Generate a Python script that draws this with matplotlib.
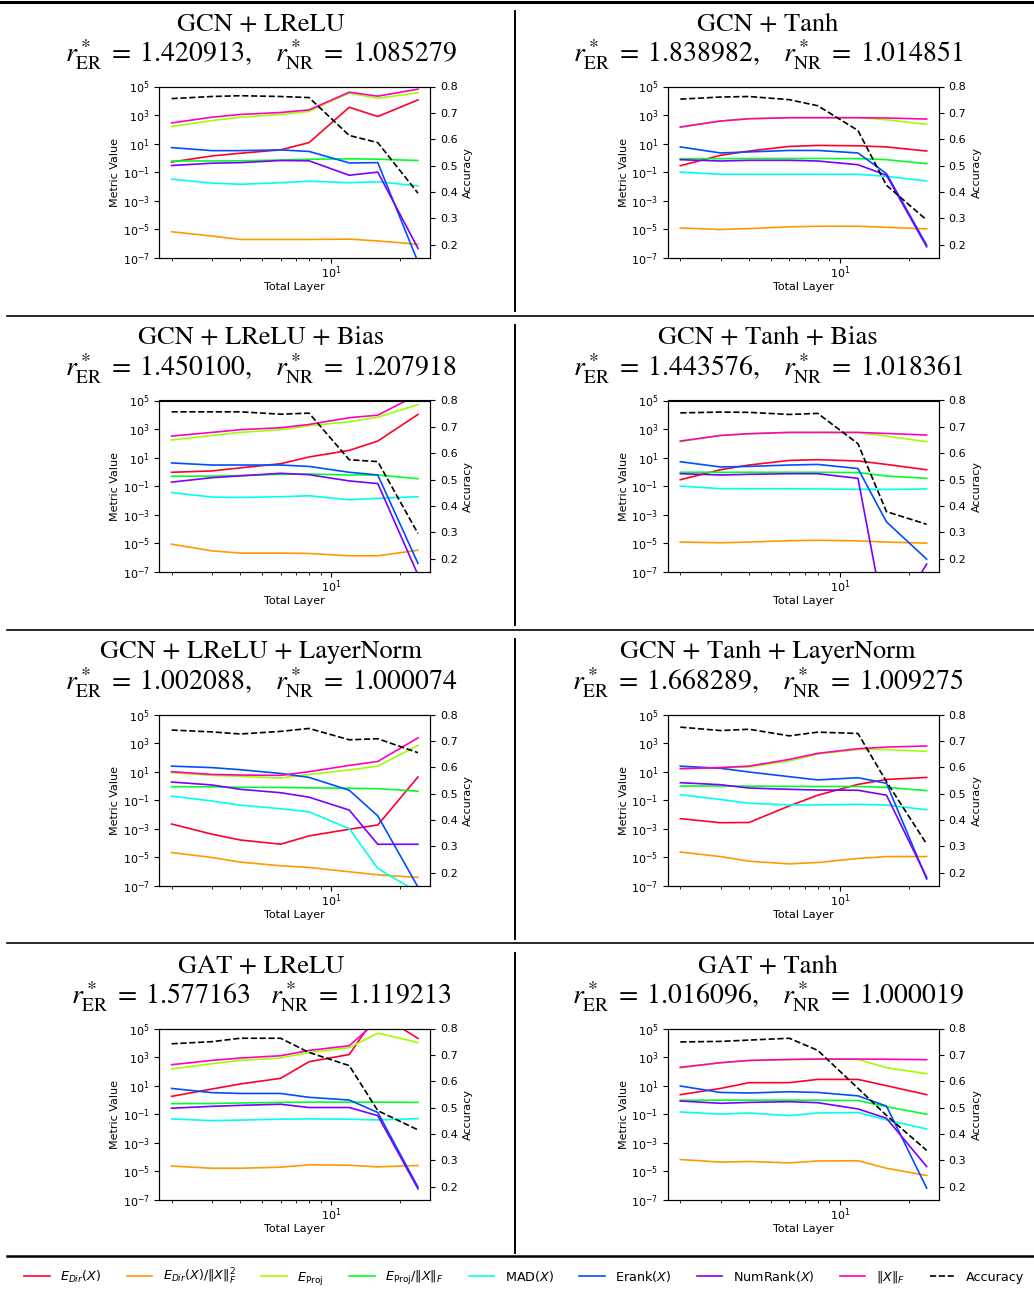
import numpy as np
import matplotlib
matplotlib.use('Agg')
import matplotlib.pyplot as plt
from matplotlib.lines import Line2D
from matplotlib.ticker import NullFormatter, NullLocator

# layers on the x axis
layers = [2, 3, 4, 6, 8, 12, 16, 24]

# panel order: row by row, left then right
titles = ['GCN + LReLU', 'GCN + Tanh',
          'GCN + LReLU + Bias', 'GCN + Tanh + Bias',
          'GCN + LReLU + LayerNorm', 'GCN + Tanh + LayerNorm',
          'GAT + LReLU', 'GAT + Tanh']
r_er = ['1.420913', '1.838982', '1.450100', '1.443576',
        '1.002088', '1.668289', '1.577163', '1.016096']
r_nr = ['1.085279', '1.014851', '1.207918', '1.018361',
        '1.000074', '1.009275', '1.119213', '1.000019']
r_sep = [',', ',', ',', ',', ',', ',', '', ',']

e_dir = [
    [0.51, 1.35, 2.1, 3.6, 11.7, 3500, 790, 11500],
    [0.28, 1.5, 3.0, 6.3, 7.4, 7.0, 5.8, 3.0],
    [0.93, 1.15, 1.9, 3.7, 11, 32, 144, 10500],
    [0.28, 1.4, 3.0, 6.3, 7.1, 5.8, 3.3, 1.4],
    [2.1e-3, 4.1e-4, 1.6e-4, 8.1e-5, 3.1e-4, 9.1e-4, 1.8e-3, 4.2],
    [5e-3, 2.6e-3, 2.7e-3, 0.039, 0.22, 1.26, 2.8, 3.9],
    [1.75, 5.7, 13, 32, 470, 1500, 1.2e6, 2e4],
    [2.3, 6.3, 16, 16, 27, 27, 9.8, 2.3],
]
e_dir_norm = [
    [6.6e-6, 3.3e-6, 1.9e-6, 1.9e-6, 1.9e-6, 2.0e-6, 1.5e-6, 8.7e-7],
    [1.2e-5, 9.5e-6, 1.1e-5, 1.45e-5, 1.6e-5, 1.6e-5, 1.35e-5, 1.05e-5],
    [8.5e-6, 2.9e-6, 2.0e-6, 2.0e-6, 1.9e-6, 1.3e-6, 1.3e-6, 3.2e-6],
    [1.2e-5, 1.06e-5, 1.2e-5, 1.5e-5, 1.6e-5, 1.45e-5, 1.2e-5, 1.0e-5],
    [2.1e-5, 9.5e-6, 4.5e-6, 2.5e-6, 1.9e-6, 9.4e-7, 5.8e-7, 3.8e-7],
    [2.3e-5, 1.1e-5, 5.2e-6, 3.4e-6, 4.2e-6, 8.1e-6, 1.1e-5, 1.1e-5],
    [2.3e-5, 1.6e-5, 1.6e-5, 1.9e-5, 2.8e-5, 2.6e-5, 2.0e-5, 2.5e-5],
    [6.6e-5, 4.3e-5, 4.8e-5, 3.8e-5, 5.2e-5, 5.4e-5, 1.6e-5, 5.0e-6],
]
e_proj = [
    [155, 410, 700, 1100, 1800, 34000, 15000, 36000],
    [144, 380, 550, 650, 650, 650, 470, 220],
    [170, 355, 580, 900, 1700, 3240, 6800, 52000],
    [130, 355, 470, 580, 580, 560, 320, 130],
    [8.3, 5.4, 4.6, 3.5, 6.3, 13, 24, 680],
    [16, 19, 21, 55, 170, 355, 355, 260],
    [144, 340, 580, 850, 2100, 4500, 47000, 10500],
    [175, 400, 560, 650, 700, 680, 178, 68],
]
e_proj_norm = [
    [0.6, 0.6, 0.62, 0.7, 0.8, 0.85, 0.8, 0.65],
    [0.87, 0.87, 0.9, 0.9, 0.9, 0.88, 0.74, 0.39],
    [0.49, 0.5, 0.55, 0.67, 0.7, 0.6, 0.6, 0.33],
    [0.93, 0.93, 0.93, 0.93, 0.93, 0.89, 0.51, 0.35],
    [0.87, 0.85, 0.79, 0.77, 0.72, 0.68, 0.63, 0.42],
    [0.97, 0.97, 0.95, 0.92, 0.9, 0.9, 0.78, 0.46],
    [0.54, 0.55, 0.6, 0.66, 0.69, 0.69, 0.69, 0.66],
    [0.93, 0.95, 0.95, 0.95, 0.93, 0.9, 0.33, 0.098],
]
mad = [
    [0.032, 0.017, 0.014, 0.018, 0.023, 0.018, 0.021, 0.011],
    [0.1, 0.07, 0.07, 0.07, 0.07, 0.07, 0.05, 0.024],
    [0.035, 0.017, 0.016, 0.018, 0.021, 0.011, 0.014, 0.018],
    [0.1, 0.066, 0.065, 0.065, 0.063, 0.06, 0.058, 0.063],
    [0.19, 0.087, 0.044, 0.025, 0.015, 1e-3, 1.6e-6, 3.5e-8],
    [0.24, 0.11, 0.06, 0.046, 0.046, 0.051, 0.045, 0.021],
    [0.046, 0.035, 0.038, 0.044, 0.046, 0.044, 0.039, 0.048],
    [0.14, 0.1, 0.12, 0.078, 0.12, 0.13, 0.039, 9.1e-3],
]
erank = [
    [5.2, 3.2, 3.2, 3.6, 2.8, 0.44, 0.46, 5e-8],
    [5.8, 2.2, 2.6, 3.3, 3.3, 2.2, 0.078, 7.6e-7],
    [4.2, 3.0, 3.0, 3.0, 2.4, 0.93, 0.6, 3.8e-7],
    [5.1, 2.2, 2.4, 3.0, 3.3, 1.7, 3.1e-4, 7.6e-7],
    [24, 19, 13.5, 7.4, 3.9, 0.49, 7.8e-3, 8e-8],
    [24, 17, 9.3, 4.4, 2.6, 3.7, 1.5, 2.9e-7],
    [6.3, 3.2, 2.8, 2.8, 1.5, 0.97, 0.13, 7.6e-7],
    [9.3, 3.3, 3.0, 3.7, 3.3, 1.9, 0.36, 6.5e-7],
]
numrank = [
    [0.29, 0.42, 0.46, 0.65, 0.62, 0.06, 0.1, 4.5e-7],
    [0.74, 0.6, 0.67, 0.67, 0.6, 0.33, 0.06, 5.8e-7],
    [0.19, 0.39, 0.52, 0.79, 0.63, 0.23, 0.15, 6e-8],
    [0.74, 0.6, 0.67, 0.74, 0.74, 0.35, 1e-11, 3.4e-7],
    [1.85, 1.15, 0.57, 0.33, 0.16, 0.02, 8e-5, 8e-5],
    [1.66, 1.2, 0.7, 0.57, 0.51, 0.49, 0.22, 3.8e-7],
    [0.26, 0.35, 0.41, 0.49, 0.29, 0.29, 0.078, 5.8e-7],
    [0.83, 0.57, 0.66, 0.74, 0.63, 0.23, 0.051, 2.1e-5],
]
fro = [
    [280, 700, 1100, 1500, 2300, 40000, 21000, 65000],
    [144, 380, 550, 650, 650, 650, 620, 520],
    [320, 580, 900, 1230, 2100, 6200, 9400, 2.6e5],
    [144, 355, 470, 580, 580, 580, 490, 380],
    [9.8, 6.3, 5.7, 5.4, 9.8, 27, 51, 2300],
    [16, 19, 24, 71, 190, 400, 520, 620],
    [290, 580, 850, 1230, 2900, 6200, 3.6e5, 2e5],
    [190, 400, 580, 680, 720, 720, 700, 650],
]
accuracy = [
    [0.754, 0.762, 0.765, 0.762, 0.758, 0.614, 0.587, 0.395],
    [0.752, 0.760, 0.762, 0.750, 0.727, 0.633, 0.425, 0.293],
    [0.757, 0.757, 0.757, 0.748, 0.752, 0.575, 0.568, 0.295],
    [0.753, 0.756, 0.755, 0.747, 0.751, 0.636, 0.378, 0.330],
    [0.741, 0.734, 0.726, 0.736, 0.747, 0.704, 0.708, 0.655],
    [0.752, 0.739, 0.744, 0.719, 0.733, 0.728, 0.545, 0.308],
    [0.742, 0.750, 0.763, 0.763, 0.709, 0.659, 0.488, 0.415],
    [0.749, 0.751, 0.756, 0.763, 0.717, 0.573, 0.470, 0.337],
]

metric_labels = [r'$E_{Dir}(X)$', r'$E_{Dir}(X)/\Vert X\Vert_F^2$',
                 r'$E_{\mathrm{Proj}}$', r'$E_{\mathrm{Proj}}/\Vert X\Vert_F$',
                 r'MAD$(X)$', r'Erank$(X)$', r'NumRank$(X)$',
                 r'$\Vert X\Vert_F$']
metrics = [e_dir, e_dir_norm, e_proj, e_proj_norm, mad, erank, numrank, fro]
colors = plt.cm.gist_rainbow(np.linspace(0, 1, len(metrics)))

W, H = 1034, 1299
fig = plt.figure(figsize=(W / 100, H / 100), dpi=100)

col_left = [159.3, 668.0]
col_center = [261, 768]
ax_w = 271.0
ax_top0, ax_h, row_step = 86.5, 171.2, 314.0

for i in range(8):
    r, c = divmod(i, 2)
    top = ax_top0 + r * row_step
    ax = fig.add_axes([col_left[c] / W, 1 - (top + ax_h) / H, ax_w / W, ax_h / H])
    for vals, col, lab in zip(metrics, colors, metric_labels):
        ax.plot(layers, vals[i], color=col, lw=1.2, label=lab)
    ax.set_xscale('log')
    ax.set_yscale('log')
    ax.set_ylim(1e-7, 1e5)
    ax.set_yticks([1e-7, 1e-5, 1e-3, 1e-1, 1e1, 1e3, 1e5])
    ax.yaxis.set_minor_locator(NullLocator())
    ax.xaxis.set_minor_formatter(NullFormatter())
    ax.tick_params(labelsize=8)
    ax.tick_params(axis='x', pad=1.5)
    ax.set_xlabel('Total Layer', fontsize=8, labelpad=0.5)
    ax.set_ylabel('Metric Value', fontsize=8, labelpad=1.5)

    ax2 = ax.twinx()
    ax2.plot(layers, accuracy[i], color='black', ls='--', lw=1.2, label='Accuracy')
    ax2.set_ylim(0.15, 0.8)
    ax2.set_yticks([0.2, 0.3, 0.4, 0.5, 0.6, 0.7, 0.8])
    ax2.tick_params(labelsize=8)
    ax2.set_ylabel('Accuracy', fontsize=8)

    base = r * row_step
    fig.text(col_center[c] / W, 1 - (30.5 + base) / H, titles[i],
             ha='center', va='baseline', fontsize=19, family='STIXGeneral')
    fig.text(col_center[c] / W, 1 - (62.5 + base) / H,
             r'$r^*_{\mathrm{ER}}\;=\;%s%s\quad r^*_{\mathrm{NR}}\;=\;%s$' % (r_er[i], r_sep[i], r_nr[i]),
             ha='center', va='baseline', fontsize=20, math_fontfamily='stix')

    # vertical separator between the two columns in this row
    fig.add_artist(Line2D([515 / W, 515 / W], [1 - (11 + base) / H, 1 - (311 + base) / H],
                          transform=fig.transFigure, color='black', lw=1.2))

# horizontal rules of the table
fig.add_artist(Line2D([0, 1], [1 - 2 / H, 1 - 2 / H], transform=fig.transFigure,
                      color='black', lw=2.2))
for yy in [316, 630, 943]:
    fig.add_artist(Line2D([7 / W, 1], [1 - yy / H, 1 - yy / H], transform=fig.transFigure,
                          color='black', lw=1.2))
fig.add_artist(Line2D([7 / W, 1], [1 - 1256 / H, 1 - 1256 / H], transform=fig.transFigure,
                      color='black', lw=1.8))

handles = [Line2D([], [], color=col, lw=1.2) for col in colors]
handles.append(Line2D([], [], color='black', ls='--', lw=1.2))
fig.legend(handles, metric_labels + ['Accuracy'], loc='center', ncol=9,
           bbox_to_anchor=(0.507, 1 - 1277 / H), frameon=False, fontsize=9.2,
           columnspacing=2.0, handlelength=2.0)

fig.savefig('out.png', dpi=100)
